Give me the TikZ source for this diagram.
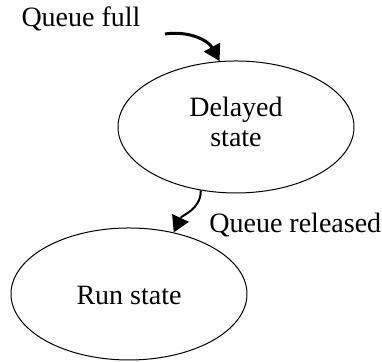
\documentclass[tikz,border=0pt]{standalone}
\usepackage{fontspec}
\setmainfont{Liberation Serif}
\usetikzlibrary{shapes.geometric,positioning,arrows.meta}

\begin{document}
\begin{tikzpicture}[x=0.5pt, y=0.5pt,
    font=\fontsize{14}{15}\selectfont,
    state/.style={ellipse, draw, line width=0.5pt, inner sep=0pt,
        minimum width=118pt, minimum height=66pt, align=center},
    trans/.style={-{Triangle[length=8pt,width=9pt]}}]

    \useasboundingbox (0, 0) rectangle (382, 362);

    \node[state, text depth=5pt] (delayed) at (236, 235) {Delayed\\state};
    \node[state, text height=11pt] (run) at (129, 68) {Run state};

    \node (full) at (81, 343) {Queue full};
    \node[anchor=west, inner sep=0pt] (released) at (209, 137) {Queue released};
    \coordinate (fullstart) at (165, 328);

    \path[trans]
        (fullstart) edge[line width=1.5pt, bend left=35] (delayed.104)
        (delayed.241) edge[line width=1pt, out=-90, in=65] (run.54);
\end{tikzpicture}
\end{document}
